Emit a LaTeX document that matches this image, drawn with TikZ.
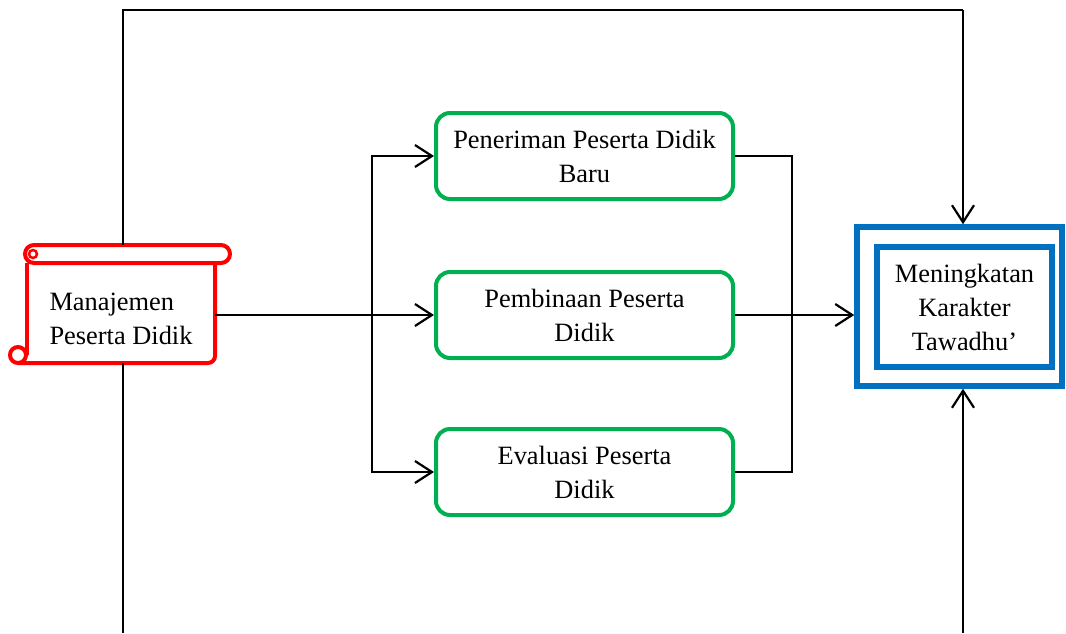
\documentclass[tikz,border=0pt]{standalone}
\usepackage{fontspec}
\setmainfont{Liberation Serif}
\usetikzlibrary{arrows.meta,positioning,calc}
\definecolor{scrollred}{HTML}{FF0000}
\definecolor{stagegreen}{HTML}{00B050}
\definecolor{goalblue}{HTML}{0070C0}

\begin{document}
\begin{tikzpicture}[x=1pt,y=-1pt,
    font=\fontsize{26.4}{34}\selectfont,
    scrollline/.style={draw=scrollred,line width=4pt},
    scrollbody/.style={minimum width=188pt,minimum height=105pt,inner sep=0pt},
    stagebox/.style={draw=stagegreen,line width=4pt,rounded corners=14pt,
                  minimum width=297pt,minimum height=86pt,align=center,inner sep=2pt},
    goalbox/.style={draw=goalblue,line width=5.5pt,align=center,inner sep=0pt},
    link/.style={line width=2.2pt},
    arr/.style={-{Straight Barb[length=17pt,width=22pt]},line width=2.2pt}]
  \useasboundingbox (0,0) rectangle (1066,633);
  % scroll shape on the left
  \node[scrollbody] (mpd) at (121,310.5) {};
  \node[align=left] (mpdlabel) at ($(mpd.center)+(0,8)$) {Manajemen\\Peserta Didik};
  \draw[scrollline,rounded corners=7pt] (27,263) -- (27,355);
  \draw[scrollline,rounded corners=7pt] (215,263) -- (215,363) -- (18,363);
  \draw[scrollline] (18,355) circle (8);
  \draw[scrollline,rounded corners=9pt] (25,245) rectangle (230,263);
  \draw[scrollline,line width=2.5pt] (33,254) circle (4);
  \coordinate (mpdtop) at (123,245);
  \coordinate (mpdbot) at (123,363);
  % stages
  \node[stagebox] (psdb) at (584.5,156) {Peneriman Peserta Didik\\Baru};
  \node[stagebox] (pps)  at (584.5,315) {Pembinaan Peserta\\Didik};
  \node[stagebox] (eps)  at (584.5,472) {Evaluasi Peserta\\Didik};
  % goal
  \node[goalbox,minimum width=205pt,minimum height=159pt] (goalout) at (959.5,306.5) {};
  \node[goalbox,minimum width=175pt,minimum height=120pt] (goal) at (964.5,307)
    {Meningkatan\\Karakter\\Tawadhu’};
  % connectors
  \coordinate (split) at (372,315);
  \coordinate (merge) at (792,315);
  \draw[arr] (pps.west -| mpd.east) -- (pps.west);
  \draw[arr] (split) |- (psdb.west);
  \draw[arr] (split) |- (eps.west);
  \draw[link] (psdb.east) -| (merge) |- (eps.east);
  \draw[arr] (pps.east) -- (pps.east -| goalout.west);
  \coordinate (topL) at (123,10);
  \coordinate (topR) at (963,10);
  \coordinate (botL) at (123,633);
  \coordinate (botR) at (963,633);
  \draw[link] (mpdtop) -- (topL) -- (topR);
  \draw[arr] (topR) -- (topR |- goalout.north);
  \draw[link] (mpdbot) -- (botL);
  \draw[arr] (botR) -- (botR |- goalout.south);
\end{tikzpicture}
\end{document}
